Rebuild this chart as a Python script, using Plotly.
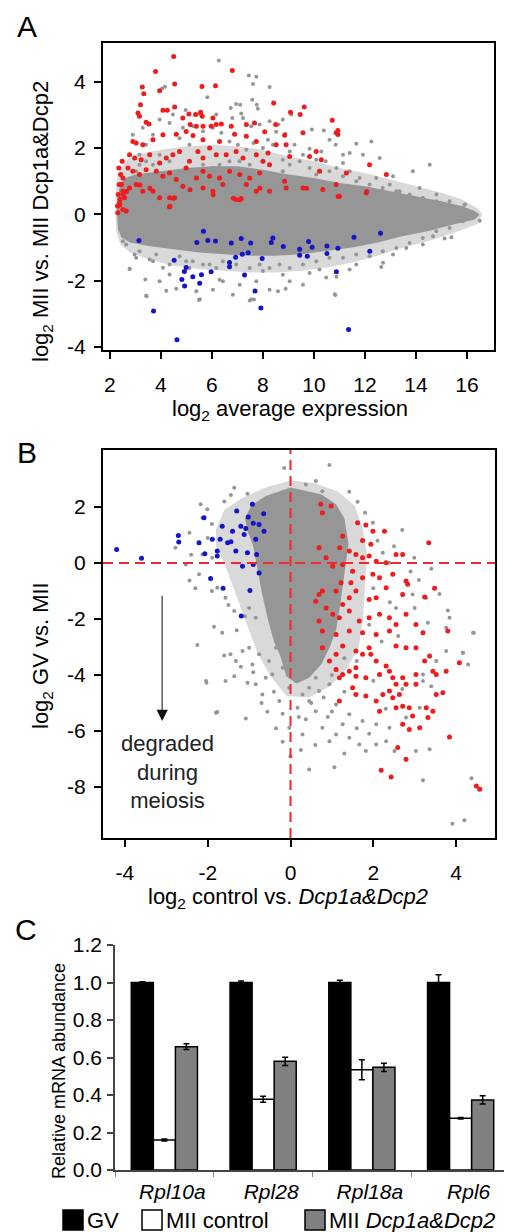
import plotly.graph_objects as go

FONT = "Liberation Sans, Arial, sans-serif"
GRAY = "#969696"
RED = "#ee1c1c"
BLUE = "#1414c8"

# ---------------- Panel A data (log2 average expression, log2 MII vs MII Dcp1a&Dcp2) ----------
a_xticks = [2, 4, 6, 8, 10, 12, 14, 16]
a_yticks = [-4, -2, 0, 2, 4]
a_yticktext = ["-4", "-2", "0", "2", "4"]

# outline of the dense (saturated) core of the gray cloud
a_core_outline = [(2.28, 0.0), (2.30, 0.5), (2.40, 0.9), (2.6, 1.1), (3.0, 1.2), (4.0, 1.3), (5.0, 1.4),
                  (6.0, 1.45), (7.0, 1.45), (8.0, 1.35), (9.0, 1.2), (10.0, 1.1), (11.0, 0.95), (12.0, 0.85),
                  (13.0, 0.7), (14.0, 0.55), (15.0, 0.4), (15.8, 0.25), (16.3, 0.1), (16.5, 0.0),
                  (16.3, -0.15), (15.5, -0.3), (14.5, -0.5), (13.5, -0.65), (12.5, -0.85), (11.5, -1.0),
                  (10.5, -1.1), (9.5, -1.2), (8.5, -1.25), (7.5, -1.25), (6.5, -1.2), (5.5, -1.15),
                  (4.5, -1.05), (3.5, -0.95), (2.8, -0.85), (2.45, -0.7), (2.32, -0.45)]
# outline of the looser fringe of the gray cloud
a_fringe_outline = [(2.22, 0.0), (2.22, 0.6), (2.3, 1.2), (2.6, 1.6), (3.0, 1.8), (4.0, 1.95), (5.0, 2.05),
                    (6.0, 2.1), (7.0, 2.05), (8.0, 1.95), (9.0, 1.75), (10.0, 1.6), (11.0, 1.4), (12.0, 1.25),
                    (13.0, 1.05), (14.0, 0.85), (15.0, 0.65), (15.8, 0.45), (16.4, 0.2), (16.6, 0.0),
                    (16.4, -0.3), (15.5, -0.55), (14.5, -0.8), (13.5, -1.0), (12.5, -1.25), (11.5, -1.45),
                    (10.5, -1.6), (9.5, -1.7), (8.5, -1.75), (7.5, -1.75), (6.5, -1.7), (5.5, -1.65),
                    (4.5, -1.55), (3.5, -1.35), (2.8, -1.15), (2.4, -0.9), (2.25, -0.5)]

a_gray_pts = [(6.27, 4.64), (7.45, 4.19), (7.74, 4.15), (7.61, 3.93), (8.26, 3.84), (5.82, 3.53), (4.16, 3.85),
              (4.05, 3.80), (7.58, 3.46), (7.76, 3.31), (7.80, 3.19), (6.74, 3.21), (6.95, 3.33), (7.11, 3.31),
              (4.97, 3.15), (5.52, 3.03), (7.15, 3.04), (7.22, 2.91), (6.17, 3.01), (6.80, 2.91), (8.78, 2.86),
              (9.11, 3.01), (8.26, 2.81), (7.87, 2.71), (7.54, 2.66), (8.61, 2.71), (8.52, 2.49), (8.89, 2.43),
              (9.92, 2.56), (10.39, 2.53), (10.61, 2.25), (11.66, 2.13), (12.25, 2.20), (12.58, 1.70),
              (11.92, 1.80), (11.40, 1.85), (11.14, 1.80), (10.85, 2.10), (10.29, 1.90), (10.09, 1.65),
              (9.83, 1.98), (9.57, 1.80), (9.24, 2.10), (9.05, 1.90), (8.78, 1.65), (8.39, 2.10), (8.20, 2.25),
              (8.00, 2.00), (7.63, 2.15), (7.35, 1.95), (7.02, 2.10), (6.69, 2.20), (6.37, 2.46), (6.04, 2.61),
              (5.65, 2.51), (5.26, 2.66), (4.86, 2.61), (4.34, 2.76), (3.95, 2.86), (3.69, 2.40), (3.42, 2.10),
              (3.16, 1.80), (2.90, 2.40), (3.29, 2.61), (4.47, 3.01), (4.73, 2.30), (5.12, 2.10), (13.10, 1.15),
              (13.88, 1.30), (14.54, 1.50), (14.14, 0.80), (14.80, 0.60), (15.32, 0.40), (15.91, 0.30),
              (16.17, 0.05), (12.97, 0.90), (13.36, 0.70), (12.44, 1.10), (11.79, 1.10), (11.40, 1.30),
              (10.88, 1.40), (10.46, 1.60), (11.14, 1.55),
              (9.05, 1.50), (9.44, 1.60), (9.83, 1.40), (10.09, 1.20), (10.61, 1.30), (11.14, 1.15),
              (11.66, 1.00), (12.18, 0.90), (12.70, 0.80), (13.23, 0.70), (13.75, 0.60), (14.27, 0.50),
              (14.80, 0.40), (8.78, 1.30), (8.26, 1.20), (7.87, 1.10), (7.48, 1.50), (7.08, 1.60), (6.69, 1.60),
              (6.30, 1.50), (6.04, 1.40), (5.65, 1.50), (5.26, 1.30), (4.99, 1.10), (4.73, 1.30), (4.34, 1.60),
              (3.95, 1.80), (3.69, 1.50), (3.42, 1.60), (3.16, 1.50), (3.03, 1.30), (3.56, 1.10), (5.12, 0.90),
              (6.04, 1.00), (6.56, 0.90), (8.00, 0.90), (8.52, 0.90), (9.31, 1.00), (9.83, 1.00), (10.61, 0.70),
              (11.40, 0.70), (11.92, 0.50), (12.44, 0.40), (12.97, 0.30), (13.49, 0.20), (14.01, 0.15),
              (14.54, 0.10), (15.06, 0.05),
              (2.77, -1.64), (3.42, -2.45), (3.39, -1.96), (2.97, -1.21), (3.69, -1.41), (3.95, -2.02),
              (4.21, -2.30), (4.60, -2.24), (4.34, -1.81), (4.08, -1.61), (5.49, -2.58), (5.39, -2.32),
              (6.04, -2.27), (6.43, -2.02), (6.82, -2.42), (7.09, -2.12), (7.48, -2.60), (7.65, -2.57),
              (7.74, -2.02), (8.26, -2.27), (8.59, -2.32), (8.89, -2.24), (9.05, -2.02), (9.57, -2.12),
              (8.78, -1.82), (9.83, -1.77), (10.22, -1.66), (10.48, -1.90), (10.84, -2.43), (10.88, -1.88),
              (11.40, -1.66), (11.66, -1.51), (12.71, -1.46), (12.64, -1.59), (13.10, -1.21), (13.62, -1.01),
              (14.27, -0.91), (14.67, -0.66), (15.12, -0.73), (15.39, -0.69), (16.50, -0.19), (15.97, 0.09),
              (15.91, 0.29), (5.25, -1.41), (5.91, -1.51), (8.00, -1.71), (4.99, -1.41), (6.30, -1.97),
              (3.16, -1.11), (2.64, -0.91), (2.51, -0.81), (3.44, -2.47), (2.78, -1.65), (5.53, -2.56),
              (7.56, -2.56), (10.82, -2.41),
              (3.03, -1.31), (3.56, -1.36), (3.82, -1.21), (4.34, -1.51), (4.73, -1.26), (5.12, -1.62),
              (5.65, -1.51), (6.17, -1.62), (6.43, -1.41), (6.95, -1.51), (7.48, -1.62), (7.87, -1.51),
              (8.26, -1.62), (8.65, -1.51), (9.05, -1.62), (9.57, -1.51), (10.09, -1.41), (10.61, -1.31),
              (11.14, -1.31), (11.66, -1.21), (12.18, -1.26), (12.70, -1.11), (13.23, -1.01), (13.75, -0.86),
              (14.27, -0.71), (14.80, -0.51), (15.32, -0.41), (15.84, -0.21)]

a_red_pts = [(4.50, 4.76), (3.79, 4.31), (6.80, 4.34), (3.27, 3.84), (3.33, 3.64), (3.95, 3.73), (4.54, 3.93),
             (5.61, 3.86), (6.14, 3.88), (8.42, 3.36), (9.62, 3.24), (9.08, 3.08), (9.46, 3.01), (10.72, 2.84),
             (10.94, 2.53), (10.87, 2.46), (10.94, 2.41), (3.20, 3.31), (3.10, 3.06), (3.16, 2.96), (3.42, 2.78),
             (3.53, 2.73), (4.08, 3.14), (4.25, 3.14), (4.54, 3.24), (5.10, 3.03), (5.36, 3.01), (5.56, 3.08),
             (5.62, 2.96), (4.86, 2.91), (5.15, 2.71), (5.39, 2.66), (5.65, 2.66), (5.97, 2.66), (6.17, 2.71),
             (6.04, 2.91), (6.37, 2.73), (6.76, 2.66), (7.35, 2.71), (7.67, 2.76), (8.07, 2.49), (8.50, 2.71),
             (8.85, 2.39), (9.57, 2.46), (2.90, 2.20), (3.03, 2.15), (3.29, 2.10), (3.69, 2.25), (4.08, 2.40),
             (4.60, 2.42), (4.99, 2.50), (5.26, 2.38), (5.65, 2.25), (6.30, 2.20), (6.89, 2.42), (7.35, 2.36),
             (7.74, 2.20), (8.20, 1.85), (8.52, 2.10), (8.91, 2.10), (9.05, 1.75), (9.83, 1.75), (10.09, 1.90),
             (10.29, 1.65), (2.77, 1.80), (2.97, 1.70), (3.23, 1.65), (3.56, 1.80), (3.95, 1.55), (4.21, 1.70),
             (4.47, 1.80), (4.73, 1.90), (5.12, 1.60), (5.45, 1.90), (5.65, 1.70), (5.91, 2.00), (6.17, 1.80),
             (6.56, 1.80), (6.95, 1.90), (7.22, 1.70), (7.74, 1.80), (8.00, 1.60), (8.26, 1.50), (2.71, 1.40),
             (2.90, 1.30), (3.16, 1.20), (3.42, 1.35), (3.82, 1.30), (4.08, 1.15), (4.34, 1.25), (4.60, 1.05),
             (4.99, 1.40), (5.39, 1.10), (5.65, 1.30), (5.91, 1.15), (6.30, 1.10), (6.69, 1.30), (7.09, 1.20),
             (7.48, 1.10), (7.87, 1.25), (8.85, 1.00), (9.57, 0.80), (10.22, 1.30), (10.87, 0.90), (11.27, 1.25),
             (12.18, 1.50), (12.84, 1.20), (2.51, 1.10), (2.45, 0.90), (2.51, 0.70), (2.58, 0.50), (2.38, 0.35),
             (2.77, 0.80), (3.03, 0.90), (3.29, 0.70), (3.69, 0.70), (3.95, 0.50), (4.34, 0.50), (4.54, 0.50),
             (4.86, 0.85), (5.65, 0.80), (6.04, 0.70), (6.43, 0.90), (6.95, 0.45), (7.15, 0.48), (7.35, 0.90),
             (7.74, 0.70), (8.26, 0.70), (8.91, 0.80), (10.35, 0.75), (11.00, 0.55), (12.05, 0.65), (4.34, 0.23),
             (2.51, 0.15), (2.64, 0.10), (2.31, 0.05), (2.39, 0.29), (2.52, 0.59), (2.65, 0.69), (3.18, 0.89),
             (3.57, 0.79), (4.35, 0.24), (4.48, 0.49), (5.14, 0.74), (6.05, 0.59), (6.84, 0.49), (7.10, 0.44),
             (7.88, 0.79), (9.71, 0.79), (10.95, 0.54), (12.07, 0.69), (2.33, 0.60), (2.36, 0.90), (2.42, 1.20),
             (2.35, 1.40), (2.48, 1.60), (2.40, 0.45), (2.30, 0.25)]

a_blue_pts = [(5.67, -0.51), (3.14, -0.79), (5.41, -0.85), (5.84, -0.79), (6.14, -0.80), (6.76, -0.86),
              (7.15, -0.73), (7.52, -0.86), (8.39, -0.71), (8.33, -0.85), (8.80, -0.97), (9.44, -1.05),
              (9.79, -0.82), (9.93, -0.99), (10.51, -0.95), (10.94, -1.02), (11.57, -0.69), (12.61, -0.57),
              (12.19, -1.11), (10.88, -1.73), (9.44, -1.23), (9.74, -1.26), (10.51, -1.18), (7.97, -1.33),
              (7.42, -1.16), (7.19, -1.20), (6.93, -1.29), (6.69, -1.45), (6.69, -1.58), (7.28, -1.83),
              (4.52, -1.38), (4.92, -1.72), (4.99, -1.60), (4.82, -1.96), (4.93, -2.16), (5.25, -1.88),
              (5.59, -1.82), (5.52, -2.08), (5.97, -1.73), (7.69, -2.31), (7.92, -2.82), (3.71, -2.91),
              (4.63, -3.78), (11.36, -3.47)]

# ---------------- Panel B data (log2 control vs Dcp1a&Dcp2, log2 GV vs MII) ----------------
b_xticks = [-4, -2, 0, 2, 4]
b_xticktext = ["-4", "-2", "0", "2", "4"]
b_yticks = [-8, -6, -4, -2, 0, 2]
b_yticktext = ["-8", "-6", "-4", "-2", "0", "2"]

b_core_outline = [(-1.1, 1.6), (-0.95, 2.05), (-0.6, 2.4), (-0.3, 2.55), (0.0, 2.7), (0.3, 2.6), (0.75, 2.45),
                  (1.1, 2.1), (1.3, 1.6), (1.4, 0.7), (1.3, -0.5), (1.2, -1.5), (1.1, -2.4), (0.95, -3.0),
                  (0.75, -3.6), (0.45, -4.1), (0.15, -4.3), (-0.1, -4.05), (-0.25, -3.3), (-0.4, -2.8),
                  (-0.55, -2.0), (-0.7, -1.0), (-0.8, -0.2), (-0.9, 0.6), (-1.05, 1.2)]
b_fringe_outline = [(-1.8, 1.2), (-1.6, 1.9), (-1.2, 2.3), (-0.6, 2.7), (0.0, 2.95), (0.6, 2.85), (1.15, 2.55),
                    (1.55, 2.05), (1.75, 1.2), (1.85, 0.3), (1.8, -0.8), (1.75, -2.0), (1.65, -3.0), (1.35, -3.8),
                    (0.95, -4.4), (0.45, -4.8), (-0.1, -4.75), (-0.5, -4.0), (-0.8, -3.2), (-1.0, -2.4),
                    (-1.2, -1.6), (-1.4, -0.8), (-1.6, 0.0), (-1.8, 0.6)]

b_gray_pts = [(0.94, 3.50), (-0.15, 3.40), (-1.36, 2.69), (-1.44, 2.43), (-1.04, 2.48), (-2.17, 2.10),
              (-2.01, 1.92), (-2.44, 1.08), (-2.13, 1.62), (-2.78, 0.55), (-2.53, -0.05), (-2.44, -0.62),
              (-2.21, -0.40), (-2.13, 0.31), (-1.89, 0.19), (-1.77, -0.88), (-1.57, -1.24), (-1.36, -1.71),
              (-1.00, -1.60), (-0.84, -1.95), (-1.85, -2.27), (-1.65, -2.49), (1.42, 2.55), (1.62, 2.19),
              (1.99, 1.44), (2.70, 1.18), (2.99, 0.19), (2.23, 0.37), (2.39, 0.01), (2.95, -1.12),
              (3.28, -1.24), (2.55, -1.60), (3.80, -1.69), (3.84, -1.95), (4.43, -2.49), (3.32, -2.13),
              (3.76, -2.31), (0.37, 2.81), (0.61, 2.93), (0.77, 2.57),
              (-2.25, -2.93), (-1.45, -3.26), (-1.16, -3.14), (-1.00, -3.02), (-1.32, -3.50), (-1.36, -4.04),
              (-1.57, -4.21), (-2.03, -4.27), (-1.04, -4.27), (-0.84, -4.33), (-0.68, -4.69), (-0.60, -4.10),
              (-1.77, -5.32), (-1.08, -5.55), (-0.56, -5.31), (-0.35, -5.90), (-0.19, -5.38), (-0.19, -6.38),
              (-0.03, -5.88), (0.29, -6.12), (0.25, -6.68), (0.45, -7.37), (1.06, -7.29), (0.17, -5.17),
              (0.37, -5.58), (0.61, -5.29), (0.77, -5.88), (0.94, -6.36), (1.10, -6.12), (1.26, -5.76),
              (1.42, -6.24), (1.66, -6.48), (1.82, -6.71), (2.07, -6.48), (2.31, -6.36), (2.51, -6.71),
              (3.03, -6.71), (3.36, -6.65), (3.20, -7.76), (4.37, -7.69), (3.91, -9.31), (4.20, -9.19),
              (4.16, -3.20), (4.29, -3.62), (0.29, -4.69), (0.45, -4.93), (0.69, -4.57), (-0.03, -4.45),
              (-0.27, -4.93), (1.10, -5.05), (1.42, -5.40), (1.74, -5.64), (2.07, -5.76), (2.39, -5.88),
              (2.79, -5.52), (3.12, -5.17), (3.20, -4.21), (3.20, -3.98), (3.52, -3.50), (3.76, -3.14),
              (0.29, -3.98), (0.61, -4.10), (0.94, -4.33), (-0.19, -3.74), (-0.44, -3.98), (-0.03, -3.26),
              (-0.76, -3.26), (-0.92, -3.62), (-0.52, -3.50), (-0.35, -3.02), (0.13, -4.21), (0.45, -4.45),
              (4.41, -2.49), (4.17, -3.20), (-2.04, -4.21), (-1.80, -5.35),
              (2.2, -2.8), (2.6, -2.6), (1.9, -2.2), (2.4, -1.4), (3.0, -1.6), (2.0, -0.9), (2.9, -0.3),
              (1.6, -3.5), (2.0, -4.2), (2.7, -4.5), (3.4, -4.4), (1.3, -4.6), (0.9, -5.5), (1.6, -5.9),
              (2.3, -5.2),
              (0.5, -5.0), (0.8, -4.8), (1.0, -5.3), (0.2, -5.5), (-0.4, -4.6), (-0.7, -5.0), (0.6, -6.5),
              (1.3, -6.8), (1.9, -6.1), (0.0, -6.9), (-0.9, -3.9), (-1.2, -3.7), (-1.6, -3.3), (1.0, -4.0),
              (1.3, -3.4), (-1.3, -2.4), (-1.1, -1.9), (-1.5, -1.5), (-1.9, -1.0), (-2.3, -0.9), (-1.6, 2.2),
              (-1.9, 1.4), (-2.0, 0.9), (-2.4, 0.3), (1.8, 1.8), (2.1, 0.8), (2.5, 0.6), (3.1, -0.6),
              (3.4, -0.2), (3.6, -1.1)]

b_red_pts = [(0.73, 2.10), (0.98, 2.04), (0.77, 1.80), (1.62, 1.44), (1.82, 1.36), (1.99, 1.14), (2.27, 1.14),
             (1.74, 0.81), (1.94, 0.67), (1.26, 0.96), (1.19, 0.55), (1.42, 0.43), (1.58, 0.31), (1.74, 0.19),
             (1.90, 0.25), (2.07, 0.07), (2.31, 0.01), (2.55, 0.31), (2.71, 0.31), (3.34, 0.73), (0.69, 0.55),
             (0.86, 0.19), (1.02, -0.11), (1.26, -0.05), (1.50, -0.29), (1.74, -0.52), (1.99, -0.40),
             (2.15, -0.52), (2.47, -0.40), (2.79, -0.64), (2.83, -0.76), (3.48, -0.90), (3.24, -1.21),
             (2.71, -1.12), (2.31, -0.88), (2.07, -1.24), (1.90, -1.30), (1.58, -1.00), (1.42, -1.24),
             (1.26, -1.48), (0.77, -1.00), (0.69, -1.12), (0.86, -1.60), (1.02, -1.83), (1.18, -1.95),
             (1.42, -1.71), (1.66, -2.07), (1.90, -1.95), (2.15, -1.83), (2.39, -1.95), (2.55, -2.19),
             (2.79, -1.83), (3.03, -2.19), (2.39, -2.43), (2.07, -2.55), (1.74, -2.49), (1.42, -2.43),
             (1.10, -2.55), (0.77, -2.43), (0.69, -2.07), (3.20, -2.49), (3.80, -2.43), (0.61, -1.36),
             (1.10, -1.00), (1.22, -0.70), (1.46, -0.70),
             (0.77, -3.02), (1.10, -3.26), (1.26, -2.96), (1.58, -3.14), (1.74, -3.26), (1.90, -3.02),
             (1.94, -3.26), (2.07, -3.50), (2.31, -3.68), (2.55, -2.96), (2.79, -3.02), (3.03, -3.02),
             (3.24, -3.50), (3.36, -3.32), (3.44, -3.86), (3.52, -3.98), (3.76, -3.86), (4.08, -3.56),
             (0.94, -3.50), (1.10, -3.80), (1.26, -3.98), (1.42, -3.86), (1.58, -3.74), (1.58, -4.04),
             (1.82, -4.10), (2.15, -3.98), (2.39, -3.86), (2.47, -4.10), (2.55, -4.33), (2.71, -4.10),
             (2.79, -4.33), (3.03, -4.33), (3.03, -3.98), (1.58, -4.69), (1.82, -4.75), (2.07, -4.93),
             (2.23, -4.69), (2.39, -4.57), (2.47, -4.81), (2.63, -4.69), (2.55, -5.17), (2.71, -5.11),
             (2.87, -5.17), (3.28, -5.17), (3.44, -5.29), (3.52, -4.69), (3.68, -4.63), (3.32, -5.52),
             (2.95, -5.46), (2.71, -5.76), (2.87, -5.94), (3.12, -5.88), (3.84, -6.21), (2.59, -6.59),
             (2.79, -7.01), (2.19, -7.40), (2.43, -7.64), (4.49, -7.96), (4.57, -8.08), (1.50, -4.45),
             (1.18, -4.10), (1.18, -4.93), (2.15, -5.29)]

b_blue_pts = [(-4.20, 0.49), (-3.60, 0.17), (-2.71, 0.99), (-2.70, 0.75), (-2.21, 0.73), (-2.09, 1.62),
              (-2.07, 0.33), (-1.89, 0.85), (-1.77, 0.43), (-1.77, 0.25), (-1.70, 0.85), (-1.65, 1.32),
              (-1.52, 0.73), (-1.44, 0.76), (-1.40, 1.14), (-1.32, 0.43), (-1.30, 1.86), (-1.20, 1.32),
              (-1.12, 1.02), (-1.08, 1.24), (-1.04, 0.37), (-1.02, 1.65), (-0.92, 2.10), (-0.90, 1.42),
              (-0.84, 0.85), (-0.82, 0.31), (-0.76, 1.38), (-0.65, 1.76), (-0.64, 1.14), (-0.76, -0.35),
              (-0.90, -0.05), (-1.16, -0.11), (-1.93, -0.55), (-1.63, -0.90), (-0.98, -0.98), (-1.19, -1.89)]

# ---------------- Panel C data (qRT-PCR) ----------------
genes = ["Rpl10a", "Rpl28", "Rpl18a", "Rpl6"]
gene_labels = ["<i>Rpl10a</i>", "<i>Rpl28</i>", "<i>Rpl18a</i>", "<i>Rpl6</i>"]
gv_vals = [1.0, 1.0, 1.0, 1.0]
gv_err = [0.004, 0.008, 0.012, 0.042]
mii_ctrl_vals = [0.16, 0.378, 0.535, 0.276]
mii_ctrl_err = [0.005, 0.016, 0.053, 0.004]
mii_dcp_vals = [0.658, 0.58, 0.548, 0.374]
mii_dcp_err = [0.015, 0.022, 0.022, 0.022]
c_yticks = [0.0, 0.2, 0.4, 0.6, 0.8, 1.0, 1.2]


def xs(pts):
    return [p[0] for p in pts]


def ys(pts):
    return [p[1] for p in pts]


def closed(pts):
    return pts + [pts[0]]


fig = go.Figure()
FRINGE = "rgba(150,150,150,0.36)"


def add_cloud(fringe, core, gray, red, blue, xa, ya):
    fig.add_trace(go.Scatter(x=xs(closed(fringe)), y=ys(closed(fringe)), fill="toself", fillcolor=FRINGE,
                             mode="lines", line=dict(width=0), hoverinfo="skip", showlegend=False,
                             xaxis=xa, yaxis=ya))
    fig.add_trace(go.Scatter(x=xs(closed(core)), y=ys(closed(core)), fill="toself", fillcolor=GRAY,
                             mode="lines", line=dict(width=0), hoverinfo="skip", showlegend=False,
                             xaxis=xa, yaxis=ya))
    fig.add_trace(go.Scatter(x=xs(gray), y=ys(gray), mode="markers", marker=dict(color=GRAY, size=4),
                             showlegend=False, xaxis=xa, yaxis=ya))
    fig.add_trace(go.Scatter(x=xs(red), y=ys(red), mode="markers", marker=dict(color=RED, size=5),
                             showlegend=False, xaxis=xa, yaxis=ya))
    fig.add_trace(go.Scatter(x=xs(blue), y=ys(blue), mode="markers", marker=dict(color=BLUE, size=5),
                             showlegend=False, xaxis=xa, yaxis=ya))


add_cloud(a_fringe_outline, a_core_outline, a_gray_pts, a_red_pts, a_blue_pts, "x", "y")
add_cloud(b_fringe_outline, b_core_outline, b_gray_pts, b_red_pts, b_blue_pts, "x2", "y2")

# ---- Panel C ----
err_style = dict(type="data", color="black", thickness=1.5, width=3)
fig.add_trace(go.Bar(x=genes, y=gv_vals, name="GV", error_y=dict(array=gv_err, **err_style),
                     marker=dict(color="black", line=dict(color="black", width=1.5)),
                     showlegend=False, xaxis="x3", yaxis="y3"))
fig.add_trace(go.Bar(x=genes, y=mii_ctrl_vals, name="MII control", error_y=dict(array=mii_ctrl_err, **err_style),
                     marker=dict(color="white", line=dict(color="black", width=1.5)),
                     showlegend=False, xaxis="x3", yaxis="y3"))
fig.add_trace(go.Bar(x=genes, y=mii_dcp_vals, name="MII Dcp1a&Dcp2", error_y=dict(array=mii_dcp_err, **err_style),
                     marker=dict(color="#808080", line=dict(color="black", width=1.5)),
                     showlegend=False, xaxis="x3", yaxis="y3"))

# The page body keeps its default 8 px margin, so the figure is drawn 8 px in from the
# window's top-left corner; size it to end exactly at the window edge.
OFF = 8
W, H = 512 - OFF, 1232 - OFF


def px_x(p):
    return (p - OFF) / W


def px_y(p):
    return 1 - (p - OFF) / H


box_axis = dict(showline=True, linecolor="black", linewidth=2, mirror=True, ticks="outside",
                ticklen=7, tickwidth=2, tickcolor="black", showgrid=False, zeroline=False, automargin=False,
                tickfont=dict(family=FONT, size=21, color="black"))

fig.update_layout(
    width=W, height=H, autosize=False,
    margin=dict(l=0, r=0, t=0, b=0, pad=0),
    paper_bgcolor="white", plot_bgcolor="white",
    font=dict(family=FONT, color="black"),
    barmode="group", bargap=0.33, bargroupgap=0.0,
    xaxis=dict(domain=[px_x(103), px_x(494)], range=[1.73, 17.06], tickvals=a_xticks,
               anchor="y", ticklabelstandoff=8, **box_axis),
    yaxis=dict(domain=[px_y(350), px_y(43)], range=[-4.09, 5.17], tickvals=a_yticks, ticktext=a_yticktext,
               anchor="x", ticklabelstandoff=4, **box_axis),
    xaxis2=dict(domain=[px_x(103), px_x(495)], range=[-4.53, 4.94], tickvals=b_xticks, ticktext=b_xticktext,
                anchor="y2", ticklabelstandoff=8, **box_axis),
    yaxis2=dict(domain=[px_y(838), px_y(450)], range=[-9.82, 4.04], tickvals=b_yticks, ticktext=b_yticktext,
                anchor="x2", ticklabelstandoff=4, **box_axis),
    xaxis3=dict(domain=[px_x(115), px_x(510)], type="category", tickvals=genes, ticktext=gene_labels,
                anchor="y3", showline=True, linecolor="#444", linewidth=1.5, ticks="outside",
                tickson="boundaries", ticklen=5, tickcolor="#888", showgrid=False, zeroline=False,
                automargin=False, tickfont=dict(family=FONT, size=21, color="black"), ticklabelstandoff=2,
                ticklabelshift=8),
    yaxis3=dict(domain=[px_y(1170), px_y(945)], range=[0, 1.2], tickvals=c_yticks, tickformat=".1f",
                anchor="x3", showline=True, linecolor="#444", linewidth=1.5, ticks="outside",
                ticklen=6, tickwidth=1.5, tickcolor="#444", showgrid=False, zeroline=False,
                automargin=False, tickfont=dict(family=FONT, size=21, color="black"), ticklabelstandoff=1),
)

# dashed reference lines in panel B
dash_line = dict(color="#ee2a2a", width=2, dash="10px,6px")
fig.add_shape(type="line", xref="x2", yref="y2 domain", x0=0, x1=0, y0=0, y1=1, line=dash_line)
fig.add_shape(type="line", xref="x2 domain", yref="y2", x0=0, x1=1, y0=0, y1=0, line=dash_line)

# arrow (gray shaft, black head) + note in panel B
fig.add_annotation(xref="x2", yref="y2", axref="x2", ayref="y2", x=-3.10, y=-5.30, ax=-3.10, ay=-1.11,
                   showarrow=True, arrowhead=0, arrowwidth=1.6, arrowcolor="#666", text="")
fig.add_annotation(xref="x2", yref="y2", axref="x2", ayref="y2", x=-3.10, y=-5.64, ax=-3.10, ay=-5.25,
                   showarrow=True, arrowhead=2, arrowsize=1.4, arrowwidth=1.6, arrowcolor="#111", text="")
fig.add_annotation(xref="x2", yref="y2", x=-2.98, y=-7.46, text="degraded<br>during<br>meiosis",
                   showarrow=False, font=dict(family=FONT, size=22, color="#222"), align="center")

# axis titles and panel letters
title_font = dict(family=FONT, size=22, color="black")
ann = [
    dict(x=px_x(42), y=px_y(222), text="log<sub>2</sub> MII vs. MII Dcp1a&amp;Dcp2", textangle=-90),
    dict(x=px_x(290), y=px_y(410), text="log<sub>2</sub> average expression", textangle=0),
    dict(x=px_x(42), y=px_y(656), text="log<sub>2</sub> GV vs. MII", textangle=-90),
    dict(x=px_x(288), y=px_y(898), text="log<sub>2</sub> control vs. <i>Dcp1a&amp;Dcp2</i>", textangle=0),
]
for a in ann:
    fig.add_annotation(xref="paper", yref="paper", xanchor="center", yanchor="middle", showarrow=False,
                       font=title_font, **a)
fig.add_annotation(xref="paper", yref="paper", x=px_x(59), y=px_y(1071), xanchor="center", yanchor="middle",
                   text="Relative mRNA abundance", textangle=-90, showarrow=False,
                   font=dict(family=FONT, size=18, color="black"))
for letter, (lx, ly) in {"A": (27, 27), "B": (27, 452), "C": (26, 929)}.items():
    fig.add_annotation(xref="paper", yref="paper", x=px_x(lx), y=px_y(ly), xanchor="center", yanchor="middle",
                       text=letter, showarrow=False, font=dict(family=FONT, size=30, color="black"))

# legend for panel C
legend_items = [("black", "GV", 63), ("white", "MII control", 142), ("#808080", "MII <i>Dcp1a&amp;Dcp2</i>", 305)]
for color, label, lx in legend_items:
    fig.add_shape(type="rect", xref="paper", yref="paper", x0=px_x(lx), x1=px_x(lx + 20),
                  y0=px_y(1230), y1=px_y(1210), fillcolor=color, line=dict(color="black", width=1.5))
    fig.add_annotation(xref="paper", yref="paper", x=px_x(lx + 22), y=px_y(1220), xanchor="left",
                       yanchor="middle", text=label, showarrow=False,
                       font=dict(family=FONT, size=22, color="black"))

fig.write_html("out.html")
